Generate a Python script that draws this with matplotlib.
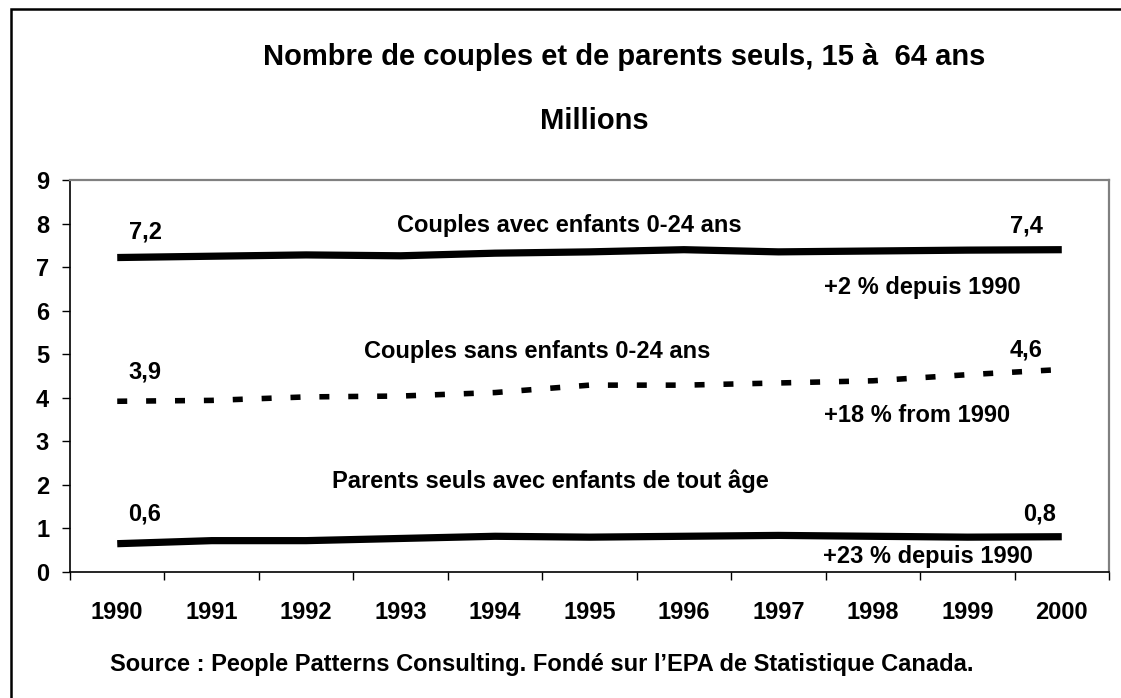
import matplotlib
matplotlib.use("Agg")
import matplotlib.pyplot as plt
from matplotlib.patches import Rectangle
from matplotlib.ticker import FixedLocator, NullFormatter

plt.rcParams['font.family'] = ['Liberation Sans', 'DejaVu Sans']
plt.rcParams['font.weight'] = 'bold'

years = ['1990', '1991', '1992', '1993', '1994', '1995', '1996', '1997', '1998', '1999', '2000']
couples_avec = [7.22, 7.25, 7.28, 7.26, 7.32, 7.35, 7.40, 7.35, 7.37, 7.39, 7.40]
couples_sans = [3.92, 3.94, 4.02, 4.04, 4.12, 4.29, 4.29, 4.34, 4.39, 4.53, 4.65]
parents_seuls = [0.65, 0.72, 0.72, 0.77, 0.82, 0.80, 0.82, 0.84, 0.82, 0.80, 0.81]
y_ticks = [0, 1, 2, 3, 4, 5, 6, 7, 8, 9]

title = "Nombre de couples et de parents seuls, 15 à  64 ans"
subtitle = "Millions"
source = "Source : People Patterns Consulting. Fondé sur l\u2019EPA de Statistique Canada."

# annotation texts with (center x px, baseline y px)
annotations = [
    ("7,2", 145, 239),
    ("Couples avec enfants 0-24 ans", 569, 232),
    ("7,4", 1026, 232),
    ("+2 % depuis 1990", 922, 294),
    ("Couples sans enfants 0-24 ans", 537, 358),
    ("4,6", 1026, 357),
    ("3,9", 145, 378),
    ("+18 % from 1990", 917, 422),
    ("Parents seuls avec enfants de tout âge", 550, 488),
    ("0,6", 145, 520),
    ("0,8", 1040, 520),
    ("+23 % depuis 1990", 928, 563),
]

W, H = 1121, 698
fig = plt.figure(figsize=(W / 100, H / 100), dpi=100)
fig.patch.set_facecolor('white')


def fp(xp, yp):
    return xp / W, 1 - yp / H


# outer frame
fig.add_artist(Rectangle((10.5 / W, -0.1), 1.2, 1.1 - 9.5 / H, transform=fig.transFigure,
                         fill=False, edgecolor='black', linewidth=1.8))

ax = fig.add_axes([70 / W, (H - 572) / H, (1109 - 70) / W, (572 - 180) / H])
x = list(range(len(years)))

ax.plot(x, couples_avec, color='black', linewidth=5.2, solid_capstyle='butt')
ax.plot(x, couples_sans, color='black', linewidth=4.0, dashes=(1.8, 3.4), dash_capstyle='butt')
ax.plot(x, parents_seuls, color='black', linewidth=5.2, solid_capstyle='butt')

ax.set_xlim(-0.5, len(years) - 0.5)
ax.set_ylim(0, 9)
ax.set_yticks(y_ticks)
ax.set_yticklabels([str(v) for v in y_ticks])

ax.xaxis.set_major_locator(FixedLocator([i - 0.5 for i in range(len(years) + 1)]))
ax.xaxis.set_major_formatter(NullFormatter())
ax.xaxis.set_minor_locator(FixedLocator(x))
ax.set_xticklabels(years, minor=True)
ax.tick_params(axis='x', which='major', length=6, width=1, direction='out', color='black')
ax.tick_params(axis='x', which='minor', length=0, pad=21, labelsize=17)
ax.tick_params(axis='y', length=6, width=1, direction='out', pad=9, labelsize=17)

for s in ['top', 'right']:
    ax.spines[s].set_color('#808080')
    ax.spines[s].set_linewidth(1.6)
for s in ['left', 'bottom']:
    ax.spines[s].set_color('black')
    ax.spines[s].set_linewidth(1.2)

for txt, xp, yp in annotations:
    fig.text(*fp(xp, yp), txt, fontsize=17, fontweight='bold', ha='center', va='baseline')

fig.text(*fp(624, 65), title, fontsize=21, fontweight='bold', ha='center', va='baseline')
fig.text(*fp(594, 129), subtitle, fontsize=21, fontweight='bold', ha='center', va='baseline')
fig.text(*fp(542, 671), source, fontsize=17, fontweight='bold', ha='center', va='baseline')

fig.savefig('out.png', dpi=100, facecolor='white')
